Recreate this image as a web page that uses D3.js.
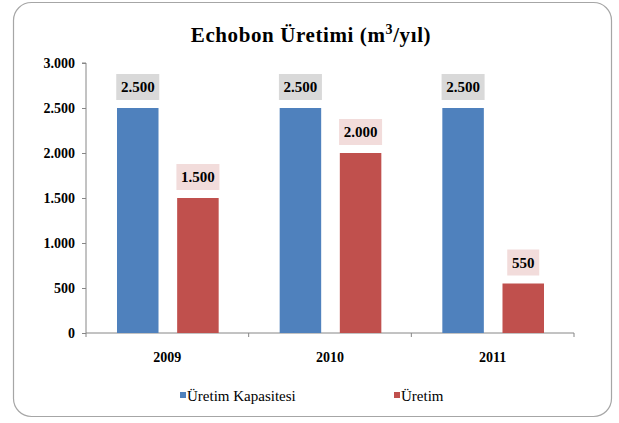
<!DOCTYPE html>
<html><head><meta charset="utf-8">
<script src="https://d3js.org/d3.v7.min.js"></script>
<style>body{margin:0;background:#fff}svg{display:block}</style>
</head><body>
<script>
const categories = ["2009", "2010", "2011"];
const seriesNames = ["Üretim Kapasitesi", "Üretim"];
const kapasite = [2500, 2500, 2500];
const uretim = [1500, 2000, 550];
const yTicks = [0, 500, 1000, 1500, 2000, 2500, 3000];
const colors = ["#4f81bd", "#c0504d"];
const labelBg = ["#d9d9d9", "#f2dcdb"];

const W = 619, H = 423;
const svg = d3.select("body").append("svg").attr("width", W).attr("height", H);
svg.append("rect").attr("x", 13.5).attr("y", 2.5).attr("width", 598).attr("height", 414)
  .attr("rx", 18).attr("fill", "#fff").attr("stroke", "#a6a6a6").attr("stroke-width", 1.2);

const fontS = '"Liberation Serif"';
svg.append("text").attr("x", 311).attr("y", 42).attr("text-anchor", "middle")
  .style("font-family", fontS).style("font-weight", "bold").style("font-size", "21px")
  .attr("letter-spacing", 0.6)
  .html("Echobon Üretimi (m<tspan dy='-8' style='font-size:14px'>3</tspan><tspan dy='8'>/yıl)</tspan>");

const x0 = 86, x1 = 574, yTop = 63, yBot = 333;
const x = d3.scaleBand().domain(categories).range([x0, x1]);
const y = d3.scaleLinear().domain([0, 3000]).range([yBot, yTop]);
const xs = d3.scaleBand().domain([0, 1]).range([31, x.bandwidth() - 30]).paddingInner(0.31);

const fmt = v => d3.format(",")(v).replace(/,/g, ".");

// y axis
const yAxis = svg.append("g").attr("transform", `translate(${x0},0)`)
  .call(d3.axisLeft(y).tickValues(yTicks).tickSize(4).tickPadding(7).tickFormat(fmt));
yAxis.attr("font-family", null);
yAxis.select(".domain").attr("stroke", "#868686").attr("d", `M-4,${yTop}H0V${yBot}`);
yAxis.selectAll(".tick line").attr("stroke", "#868686");
yAxis.selectAll("text").style("font-family", fontS).style("font-weight", "bold")
  .style("font-size", "14px").attr("fill", "#000");

// x axis
const xAxis = svg.append("g").attr("transform", `translate(0,${yBot})`)
  .call(d3.axisBottom(x).tickSize(0).tickPadding(19));
xAxis.attr("font-family", null);
xAxis.select(".domain").attr("stroke", "#868686").attr("d", `M${x0},4V0H${x1}V4`);
xAxis.selectAll("text").style("font-family", fontS).style("font-weight", "bold")
  .style("font-size", "14px").attr("fill", "#000");
svg.append("g").selectAll("line").data(categories.slice(1)).join("line")
  .attr("x1", d => x(d)).attr("x2", d => x(d)).attr("y1", yBot).attr("y2", yBot + 4)
  .attr("stroke", "#868686");

const series = [kapasite, uretim];
series.forEach((vals, si) => {
  const g = svg.append("g");
  g.selectAll("rect.bar").data(vals).join("rect").attr("class", "bar")
    .attr("x", (d, i) => x(categories[i]) + xs(si)).attr("width", xs.bandwidth())
    .attr("y", d => y(d)).attr("height", d => yBot - y(d)).attr("fill", colors[si]);
  const lbl = g.selectAll("g.lbl").data(vals).join("g").attr("class", "lbl")
    .attr("transform", (d, i) => `translate(${x(categories[i]) + xs(si) + xs.bandwidth() / 2},${y(d) - 8})`);
  lbl.append("rect").attr("x", d => d >= 1000 ? -21.5 : -16).attr("y", -26)
    .attr("width", d => d >= 1000 ? 43 : 32).attr("height", 26).attr("fill", labelBg[si]);
  lbl.append("text").attr("y", -8).attr("text-anchor", "middle")
    .style("font-family", fontS).style("font-weight", "bold").style("font-size", "15px")
    .text(d => fmt(d));
});

// legend
const legX = [180, 394];
seriesNames.forEach((n, i) => {
  svg.append("rect").attr("x", legX[i]).attr("y", 392).attr("width", 6).attr("height", 6).attr("fill", colors[i]);
  svg.append("text").attr("x", legX[i] + 7).attr("y", 401).style("font-family", fontS)
    .style("font-size", "15px").text(n);
});
</script>
</body></html>
